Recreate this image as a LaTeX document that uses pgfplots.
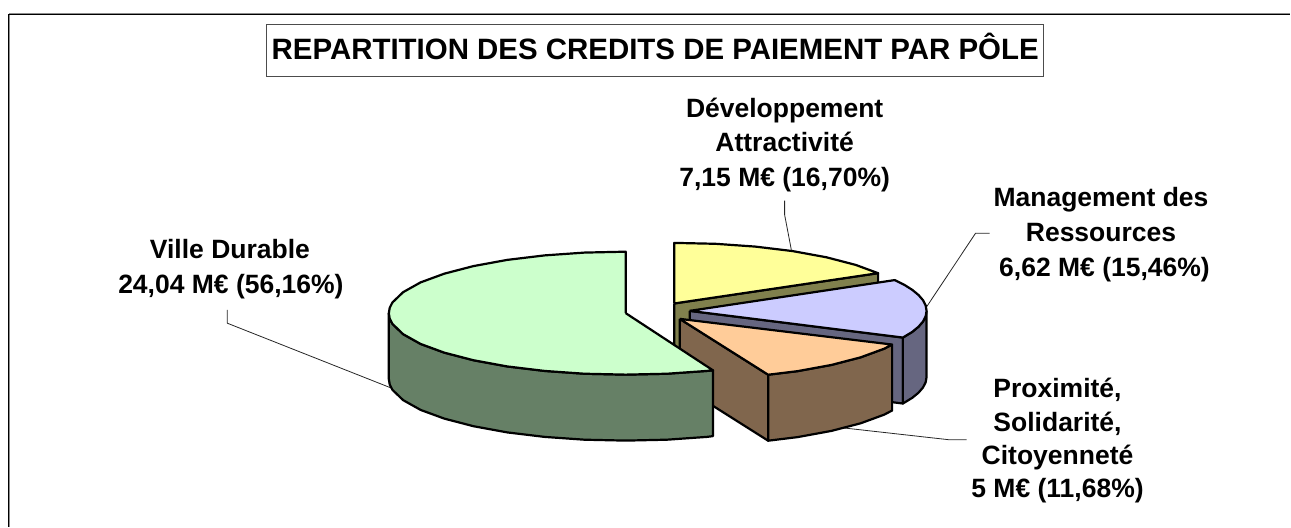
\documentclass[border=0pt]{standalone}
\usepackage{fontspec}
\setmainfont{Liberation Sans}
\usepackage{pgfplots}
\pgfplotsset{compat=1.18}

\definecolor{yellowtop}{RGB}{255,255,153}
\definecolor{yellowside}{RGB}{128,128,77}
\definecolor{bluetop}{RGB}{204,204,255}
\definecolor{blueside}{RGB}{102,102,128}
\definecolor{orangetop}{RGB}{255,204,153}
\definecolor{orangeside}{RGB}{128,102,77}
\definecolor{greentop}{RGB}{204,255,204}
\definecolor{greenside}{RGB}{102,128,102}

\newcommand{\lab}[3]{\node[anchor=base,inner sep=0pt,font=\fontsize{26.5}{26.5}\selectfont\bfseries] at (axis cs:#1,#2) {#3};}

\begin{document}
\begin{tikzpicture}
\begin{axis}[
  scale only axis,
  width=1291pt,
  height=527pt,
  xmin=0, xmax=1291,
  ymin=0, ymax=527,
  y dir=reverse,
  hide axis,
  clip=false,
  pie/.style={draw=black, line width=2.2pt, line join=round},
  leader/.style={draw=black!85, line width=0.8pt, line join=round},
]
% hide axis drops the box, so keep the full page size with an empty path
\addplot[draw=none] coordinates {(0,0) (1291,0) (1291,527) (0,527) (0,0)};
% frame, runs off the right and the bottom
\addplot[draw=black!45, line width=0.8pt] coordinates {(9.5,527) (9.5,13.4) (1291,13.4)};
\addplot[draw=black, line width=1.2pt] coordinates {(8.5,527) (8.5,14.4) (1291,14.4)};
% title box
\addplot[draw=black!70, line width=1pt] coordinates {(266.7,24.5) (1044,24.5) (1044,76.5) (266.7,76.5) (266.7,24.5)};

% leader lines
\addplot[leader] coordinates {(785,200.7) (785,215) (791.7,250)};
\addplot[leader] coordinates {(990,233.3) (976,233.3) (927,307)};
\addplot[leader] coordinates {(967,440) (950,440) (843,428)};
\addplot[leader] coordinates {(227.3,310) (227.3,323.3) (391.7,388.3)};

% Developpement Attractivite
\addplot[pie, fill=yellowside] coordinates {(674.5,303.6) (878.5,273.3) (878.5,339.3) (674.5,369.6) (674.5,303.6)};
\addplot[pie, fill=yellowtop] coordinates {
  (674.5,303.6) (674.5,243) (715.7,243.9) (755.6,246.7) (793,251.2) (826.8,257.4)
  (856,265) (878.5,273.3) (674.5,303.6)};

% Management des Ressources
\addplot[pie, fill=blueside] coordinates {(690,311) (903.3,337.7) (903.3,403.7) (690,377) (690,311)};
\addplot[pie, fill=blueside] coordinates {
  (927,311) (926.1,316.4) (923.4,321.7) (918.9,326.9) (912.7,332) (903.3,337.7)
  (903.3,403.7) (912.7,398) (918.9,392.9) (923.4,387.7) (926.1,382.4) (927,377) (927,311)};
\addplot[pie, fill=bluetop] coordinates {
  (690,311) (895.2,280.2) (904.8,285) (912.7,290) (918.9,295.1) (923.4,300.3)
  (926.1,305.6) (927,311) (926.1,316.4) (923.4,321.7) (918.9,326.9) (912.7,332)
  (903.3,337.7) (690,311)};

% Proximite, Solidarite, Citoyennete
\addplot[pie, fill=orangeside] coordinates {(680,319) (768.5,374.9) (768.5,440.9) (680,385) (680,319)};
\addplot[pie, fill=orangeside] coordinates {
  (892.5,344.7) (884.7,348.8) (861,357.5) (831.8,365.1) (798,371.3) (768.5,374.9)
  (768.5,440.9) (798,437.3) (831.8,431.1) (861,423.5) (884.7,414.8) (892.5,410.7) (892.5,344.7)};
\addplot[pie, fill=orangetop] coordinates {
  (680,319) (892.5,344.7) (884.7,348.8) (861,357.5) (831.8,365.1) (798,371.3)
  (768.5,374.9) (680,319)};

% Ville Durable
\addplot[pie, fill=greenside] coordinates {
  (389,313.3) (389.9,318.7) (392.6,324) (403.3,334.3) (420.8,344.1) (444.5,352.8)
  (473.7,360.4) (507.5,366.6) (544.9,371.1) (584.8,373.9) (626,374.8) (667.2,373.9)
  (707.1,371.1) (713.3,370.5) (713.3,436.3) (707.1,437.1) (667.2,439.9) (626,440.8)
  (584.8,439.9) (544.9,437.1) (507.5,432.6) (473.7,426.4) (444.5,418.8) (420.8,410.1)
  (403.3,400.3) (392.6,390) (389.9,384.7) (389,379.3) (389,313.3)};
\addplot[pie, fill=greentop] coordinates {
  (626,313.3) (626,251.8) (584.8,252.7) (544.9,255.5) (507.5,260) (473.7,266.2)
  (444.5,273.8) (420.8,282.5) (403.3,292.3) (392.6,302.6) (389.9,307.9) (389,313.3)
  (389.9,318.7) (392.6,324) (403.3,334.3) (420.8,344.1) (444.5,352.8) (473.7,360.4)
  (507.5,366.6) (544.9,371.1) (584.8,373.9) (626,374.8) (667.2,373.9) (707.1,371.1)
  (713.3,370.5) (626,313.3)};

% title
\node[anchor=base,inner sep=0pt,font=\fontsize{29.45}{29}\selectfont\bfseries] at (axis cs:655.5,60) {REPARTITION DES CREDITS DE PAIEMENT PAR PÔLE};

% labels
\lab{785}{117.7}{Développement}
\lab{785}{151.7}{Attractivité}
\lab{785}{186.7}{7,15 M€ (16,70\%)}
\lab{1101.5}{207}{Management des}
\lab{1101.5}{242}{Ressources}
\lab{1105}{276.7}{6,62 M€ (15,46\%)}
\lab{230}{259}{Ville Durable}
\lab{231}{294}{24,04 M€ (56,16\%)}
\lab{1058}{398}{Proximité,}
\lab{1058}{431.7}{Solidarité,}
\lab{1058}{465}{Citoyenneté}
\lab{1058}{498}{5 M€ (11,68\%)}
\end{axis}
\end{tikzpicture}
\end{document}
